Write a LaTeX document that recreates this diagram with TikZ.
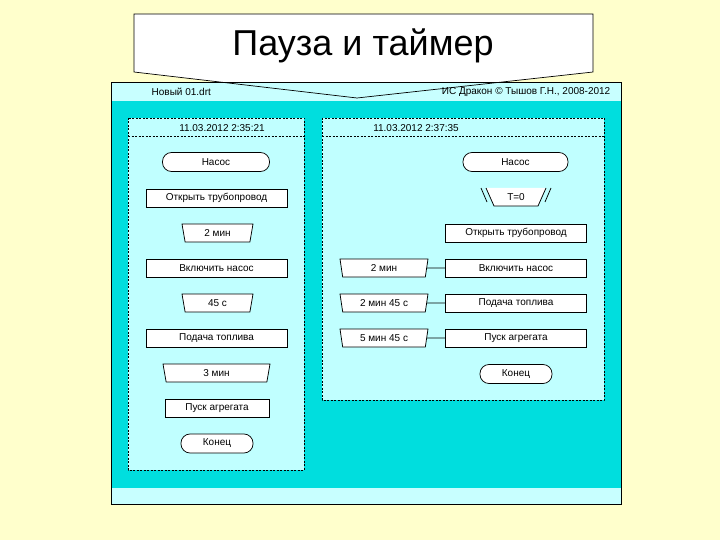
\documentclass[tikz,border=0pt]{standalone}
\usepackage{fontspec}
\setmainfont{Liberation Sans}
\usetikzlibrary{shapes.geometric,calc}
\definecolor{bgyellow}{HTML}{FFFFCC}
\definecolor{cyandark}{HTML}{00DEDE}
\definecolor{cyanlight}{HTML}{C0FFFF}
\definecolor{hdrcyan}{HTML}{C8FFFF}
\begin{document}
\begin{tikzpicture}[x=1pt,y=-1pt, line width=0.75pt,
  lbl/.style={font=\fontsize{10}{12}\selectfont},
  box/.style={lbl, draw, fill=white, minimum width=141pt, minimum height=18pt, inner sep=0pt},
  pill/.style={lbl, draw, fill=white, rounded corners=9pt, minimum height=19pt, inner sep=0pt},
  trap/.style={lbl, draw, fill=white, trapezium, shape border rotate=180,
    trapezium left angle=66, trapezium right angle=66, trapezium stretches body,
    minimum height=18pt, minimum width=71pt, inner sep=0pt},
  panel/.style={fill=cyanlight, draw, dash pattern=on 2pt off 1.5pt, line width=0.6pt},
  hdrtext/.style={font=\fontsize{10}{12}\selectfont}
]
\useasboundingbox (0,0) rectangle (720,540);
\fill[bgyellow] (0,0) rectangle (720,540);
% callout fill
\fill[white] (134,14) -- (593,14) -- (593,72) -- (357,98) -- (134,72) -- cycle;
\node[font=\fontsize{36}{40}\selectfont] (title) at (363,46) {Пауза и таймер};
% window
\fill[hdrcyan] (111,82) rectangle (621,101);
\fill[cyandark] (111,101) rectangle (621,488);
\fill[hdrcyan] (111,488) rectangle (621,504);
\draw[line width=0.9pt] (111,82) rectangle (621,504);
\node[hdrtext, anchor=west] (fname) at (148,92) {Новый 01.drt};
\node[hdrtext, anchor=east] (copy) at (614,92) {ИС Дракон © Тышов Г.Н., 2008-2012};
% callout outline
\draw[line width=0.7pt] (134,14) -- (593,14) -- (593,72) -- (357,98) -- (134,72) -- cycle;
% panels
\path[panel] (128,118) rectangle (304,470);
\draw[dash pattern=on 2pt off 1.5pt, line width=0.6pt] (128,136) -- (304,136);
\path[panel] (322,118) rectangle (604,400);
\draw[dash pattern=on 2pt off 1.5pt, line width=0.6pt] (322,136) -- (604,136);
\node[lbl] (d1) at (222,128) {11.03.2012 2:35:21};
\node[lbl] (d2) at (416,128) {11.03.2012 2:37:35};
% left column
\node[pill, minimum width=107pt] (l1) at (216,162) {Насос};
\node[box] (l2) at (216.5,198) {Открыть трубопровод};
\node[trap] (l3) at (217.5,233) {2 мин};
\node[box] (l4) at (216.5,268) {Включить насос};
\node[trap] (l5) at (217.5,303) {45 с};
\node[box] (l6) at (216.5,338) {Подача топлива};
\node[trap, minimum width=107pt] (l7) at (216.5,373) {3 мин};
\node[box, minimum width=104pt] (l8) at (217,408.5) {Пуск агрегата};
\node[pill, minimum width=72pt] (l9) at (217,443.5) {Конец};
% right column
\node[pill, minimum width=105pt] (r1) at (515.5,162) {Насос};
\coordinate (tc) at (516,197);
\fill[white] ($(tc)+(-30,-9)$) -- ($(tc)+(30,-9)$) -- ($(tc)+(22,9)$) -- ($(tc)+(-22,9)$) -- cycle;
\draw ($(tc)+(-30,-9)$) -- ($(tc)+(-22,9)$) -- ($(tc)+(22,9)$) -- ($(tc)+(30,-9)$);
\draw ($(tc)+(-35,-9)$) -- ($(tc)+(-29,5)$);
\draw ($(tc)+(35,-9)$) -- ($(tc)+(29,5)$);
\node[lbl] (r2) at (tc) {Т=0};
\node[box] (r3) at (516,233) {Открыть трубопровод};
\node[trap, minimum width=88pt, trapezium left angle=69, trapezium right angle=69] (t1) at (384,268) {2 мин};
\node[box] (b1) at (516,268) {Включить насос};
\node[trap, minimum width=88pt, trapezium left angle=69, trapezium right angle=69] (t2) at (384,303) {2 мин 45 с};
\node[box] (b2) at (516,303) {Подача топлива};
\node[trap, minimum width=88pt, trapezium left angle=69, trapezium right angle=69] (t3) at (384,338) {5 мин 45 с};
\node[box] (b3) at (516,338) {Пуск агрегата};
\node[pill, minimum width=72pt] (r4) at (516,374) {Конец};
\draw (t1.east) -- (b1.west);
\draw (t2.east) -- (b2.west);
\draw (t3.east) -- (b3.west);
\end{tikzpicture}
\end{document}
